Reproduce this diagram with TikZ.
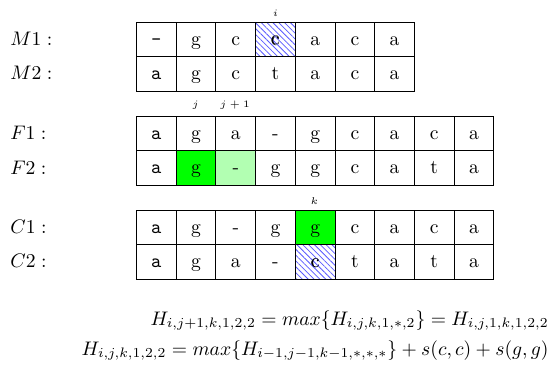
\documentclass[tikz,border=0pt]{standalone}
\usetikzlibrary{patterns.meta}
\begin{document}
\begin{tikzpicture}[x=0.51pt,y=-0.51pt,
  cell/.style={draw=black,line width=0.55pt,minimum width=20.25pt,minimum height=17.55pt,inner sep=0pt,text height=1.5ex,text depth=.25ex,anchor=north west},
  hatch/.style={pattern={Lines[angle=-45,distance=2.1pt,line width=0.4pt]},pattern color=blue!65},
  gfull/.style={fill=green},
  glight/.style={fill=green!30},
  lab/.style={anchor=base west,inner sep=0pt},
  idx/.style={font=\tiny,inner sep=0pt}]
\useasboundingbox (0,0) rectangle (550,367);
% row labels
\node[lab] (lm1) at (10,45) {$M1:$};
\node[lab] (lm2) at (10,79) {$M2:$};
\node[lab] (lf1) at (10,139) {$F1:$};
\node[lab] (lf2) at (10,174) {$F2:$};
\node[lab] (lc1) at (10,233) {$C1:$};
\node[lab] (lc2) at (10,267) {$C2:$};
% M rows
\foreach \t [count=\n] in {\texttt{-},g,c,c,a,c,a}{
  \node[cell] (m1-\n) at ({136+(\n-1)*39.7},22) {\t};}
\node[cell,hatch] at (m1-4.north west) {c};
\foreach \t [count=\n] in {\texttt{a},g,c,t,a,c,a}{
  \node[cell] (m2-\n) at ({136+(\n-1)*39.7},56.4) {\t};}
% F rows
\foreach \t [count=\n] in {\texttt{a},g,a,-,g,c,a,c,a}{
  \node[cell] (f1-\n) at ({136+(\n-1)*39.7},116) {\t};}
\foreach \t [count=\n] in {\texttt{a},g,-,g,g,c,a,t,a}{
  \node[cell] (f2-\n) at ({136+(\n-1)*39.7},150.4) {\t};}
\node[cell,gfull] at (f2-2.north west) {g};
\node[cell,glight] at (f2-3.north west) {-};
% C rows
\foreach \t [count=\n] in {\texttt{a},g,-,g,g,c,a,c,a}{
  \node[cell] (c1-\n) at ({136+(\n-1)*39.7},210) {\t};}
\foreach \t [count=\n] in {\texttt{a},g,a,-,c,t,a,t,a}{
  \node[cell] (c2-\n) at ({136+(\n-1)*39.7},244.4) {\t};}
\node[cell,gfull] at (c1-5.north west) {g};
\node[cell,hatch] at (c2-5.north west) {c};
% index labels
\node[idx] (ii) at (275.5,13) {$i$};
\node[idx] (ij) at (195.5,105) {$j$};
\node[idx] (ij1) at (235,105) {$j+1$};
\node[idx] (ik) at (314.5,201) {$k$};
% formulas
\node[anchor=base east,inner sep=0pt] (eq1) at (549,325) {$H_{i,j+1,k,1,2,2}=max\{H_{i,j,k,1,*,2}\}=H_{i,j,1,k,1,2,2}$};
\node[anchor=base east,inner sep=0pt] (eq2) at (549,355) {$H_{i,j,k,1,2,2}=max\{H_{i-1,j-1,k-1,*,*,*}\}+s(c,c)+s(g,g)$};
\end{tikzpicture}
\end{document}
